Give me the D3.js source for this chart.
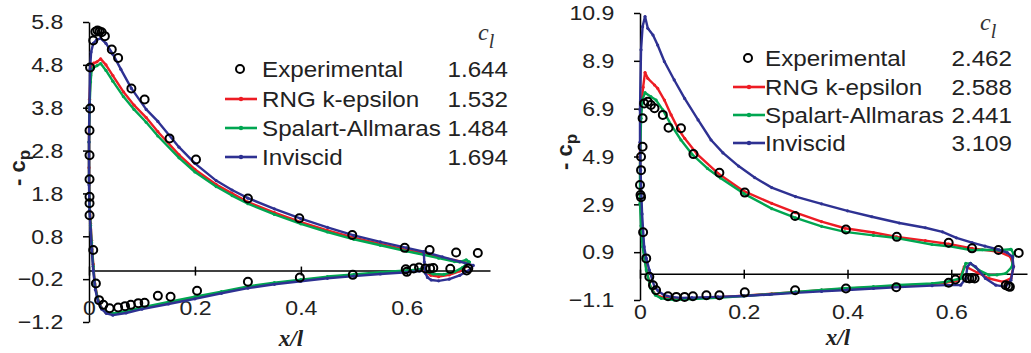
<!DOCTYPE html>
<html>
<head>
<meta charset="utf-8">
<script src="https://cdnjs.cloudflare.com/ajax/libs/d3/7.8.5/d3.min.js"></script>
<style>
  body { margin: 0; background: #fff; }
  svg { display: block; background: #fff; }
  .axis path, .axis line { stroke: #000; stroke-width: 1.5; }
  .axis text { font-family: "Liberation Sans", Arial, sans-serif; font-size: 21px; fill: #222; }
  .lg { font-family: "Liberation Sans", Arial, sans-serif; font-size: 22px; fill: #222; }
</style>
</head>
<body>
<svg width="1031" height="353"></svg>
<script>
const seriesNames = ["Experimental", "RNG k-epsilon", "Spalart-Allmaras", "Inviscid"];
const seriesColors = ["#000000", "#ed1c24", "#00a651", "#2e3192"];
const clLeft = ["1.644", "1.532", "1.484", "1.694"];
const clRight = ["2.462", "2.588", "2.441", "3.109"];
const yTicksLeft = [5.8, 4.8, 3.8, 2.8, 1.8, 0.8, -0.2, -1.2];
const yTicksRight = [10.9, 8.9, 6.9, 4.9, 2.9, 0.9, -1.1];
const xTicks = [0, 0.2, 0.4, 0.6];

// left case: [x/l, -cp]
const expLeft = [
  [0.012,5.57],[0.016,5.6],[0.02,5.58],[0.024,5.56],[0.008,5.37],[0.03,5.47],[0.043,5.16],[0.055,4.96],
  [0.08,4.25],[0.105,3.99],[0.152,3.08],[0.202,2.59],[0.30,1.68],[0.397,1.22],[0.497,0.83],[0.596,0.53],
  [0.643,0.48],[0.693,0.42],[0.734,0.41],
  [0.002,4.74],[0.002,3.78],[0.001,3.27],[0.001,2.69],[0.001,2.13],[0.001,1.72],[0.001,1.57],[0.001,1.29],
  [0.008,0.48],[0.013,-0.3],[0.019,-0.69],[0.027,-0.8],
  [0.039,-0.88],[0.055,-0.86],[0.068,-0.83],[0.079,-0.8],[0.093,-0.76],[0.105,-0.75],[0.13,-0.59],
  [0.154,-0.61],[0.204,-0.47],[0.30,-0.26],[0.398,-0.16],[0.498,-0.1],[0.598,0.03],[0.6,-0.03],
  [0.613,0.05],[0.623,0.07],[0.635,0.05],[0.644,0.05],[0.65,0.06],[0.682,0.04],[0.713,0.0],[0.716,0.05]
];
const rngLeft = [[
  [0.716,0.18],[0.69,0.24],[0.66,0.32],[0.632,0.40],[0.60,0.48],[0.55,0.62],[0.50,0.77],[0.45,0.94],
  [0.40,1.13],[0.35,1.35],[0.30,1.6],[0.27,1.8],[0.24,2.01],[0.20,2.36],[0.17,2.7],[0.13,3.24],
  [0.108,3.57],[0.085,3.86],[0.065,4.17],[0.045,4.55],[0.032,4.8],[0.022,4.94],[0.015,4.87],[0.009,4.84],
  [0.005,4.8],[0.003,4.55],[0.001,4.0],[0.0,3.2],[0.0,2.4],[0.001,1.6],[0.003,1.1],[0.005,0.7],
  [0.008,0.15],[0.011,-0.3],[0.016,-0.62],[0.023,-0.86],[0.032,-0.98],[0.045,-1.02],[0.07,-0.97],
  [0.1,-0.88],[0.15,-0.76],[0.2,-0.64],[0.25,-0.51],[0.3,-0.39],[0.35,-0.3],[0.4,-0.23],[0.45,-0.16],
  [0.5,-0.11],[0.55,-0.06],[0.6,-0.02],[0.625,0.01],[0.632,0.04],[0.636,-0.04],[0.645,-0.11],
  [0.66,-0.14],[0.68,-0.1],[0.70,-0.01],[0.711,0.09],[0.716,0.18]
]];
const saLeft = [[
  [0.718,0.2],[0.712,0.25],[0.70,0.2],[0.69,0.21],[0.66,0.29],[0.632,0.37],[0.60,0.45],[0.55,0.59],
  [0.50,0.73],[0.45,0.9],[0.40,1.09],[0.35,1.31],[0.30,1.56],[0.27,1.75],[0.24,1.96],[0.20,2.3],
  [0.17,2.63],[0.13,3.14],[0.108,3.46],[0.085,3.76],[0.065,4.06],[0.045,4.42],[0.032,4.67],[0.022,4.83],
  [0.015,4.78],[0.009,4.74],[0.005,4.68],[0.003,4.4],[0.001,3.8],[0.0,3.0],[0.0,2.2],[0.001,1.5],
  [0.003,1.05],[0.005,0.65],[0.008,0.1],[0.011,-0.33],[0.016,-0.64],[0.023,-0.87],[0.032,-0.98],
  [0.045,-1.0],[0.07,-0.95],[0.1,-0.86],[0.15,-0.73],[0.2,-0.61],[0.25,-0.49],[0.3,-0.37],[0.35,-0.28],
  [0.4,-0.21],[0.45,-0.14],[0.5,-0.09],[0.55,-0.04],[0.6,0.0],[0.625,0.03],[0.632,0.05],[0.637,-0.03],
  [0.65,-0.08],[0.67,-0.09],[0.69,-0.03],[0.705,0.07],[0.714,0.17],[0.718,0.2]
]];
const invLeft = [[
  [0.725,0.12],[0.70,0.21],[0.667,0.32],[0.632,0.44],[0.60,0.53],[0.55,0.67],[0.50,0.82],[0.45,1.01],
  [0.40,1.21],[0.35,1.44],[0.30,1.69],[0.27,1.88],[0.24,2.1],[0.20,2.5],[0.17,2.88],[0.13,3.48],
  [0.108,3.76],[0.08,4.25],[0.06,4.7],[0.045,5.05],[0.032,5.3],[0.022,5.42],[0.014,5.38],[0.008,5.3],
  [0.004,5.1],[0.002,4.7],[0.001,3.9],[0.0,3.0],[0.0,2.0],[0.001,1.4],[0.003,0.95],[0.005,0.5],
  [0.008,0.0],[0.012,-0.45],[0.017,-0.72],[0.024,-0.9],[0.033,-1.0],[0.045,-1.04],[0.07,-0.99],
  [0.1,-0.9],[0.15,-0.78],[0.2,-0.66],[0.25,-0.53],[0.3,-0.41],[0.35,-0.32],[0.4,-0.25],[0.45,-0.18],
  [0.5,-0.13],[0.55,-0.08],[0.6,-0.04],[0.625,-0.01]
], [
  [0.632,0.44],[0.633,0.2],[0.635,-0.06],[0.639,-0.16],[0.646,-0.22],[0.66,-0.24],[0.68,-0.2],
  [0.70,-0.11],[0.714,-0.02],[0.722,0.06],[0.725,0.12]
]];

// right case
const expRight = [
  [0.008,7.12],[0.015,7.19],[0.021,7.05],[0.028,6.92],[0.044,6.64],[0.055,6.1],[0.079,6.08],[0.103,5.0],
  [0.153,4.22],[0.202,3.39],[0.299,2.41],[0.397,1.85],[0.495,1.54],[0.595,1.29],[0.64,1.06],[0.691,0.99],
  [0.73,0.87],
  [0.005,6.5],[0.005,5.31],[0.002,4.89],[0.002,4.33],[0.0,3.71],[0.001,3.29],[0.002,3.2],[0.006,1.73],
  [0.012,0.64],[0.018,-0.13],[0.025,-0.48],[0.031,-0.69],
  [0.054,-0.94],[0.07,-0.97],[0.086,-0.97],[0.102,-0.94],[0.128,-0.9],[0.153,-0.9],[0.202,-0.78],
  [0.299,-0.69],[0.397,-0.62],[0.494,-0.57],[0.595,-0.38],[0.608,-0.24],[0.63,-0.18],[0.635,-0.2],
  [0.64,-0.18],[0.645,-0.2],[0.705,-0.48],[0.713,-0.55],[0.71,-0.52]
];
const rngRight = [[
  [0.714,0.71],[0.692,0.92],[0.64,1.06],[0.595,1.24],[0.55,1.38],[0.495,1.54],[0.45,1.72],[0.395,1.9],
  [0.35,2.18],[0.3,2.55],[0.254,2.94],[0.2,3.45],[0.15,4.2],[0.11,5.0],[0.086,5.66],[0.073,6.08],
  [0.06,6.64],[0.047,7.26],[0.034,7.75],[0.028,7.89],[0.015,8.17],[0.0097,8.41],[0.006,7.8],[0.003,7.1],
  [0.001,6.5],[0.0,5.0],[0.001,3.0],[0.004,1.8],[0.008,0.9],[0.013,0.1],[0.02,-0.55],[0.03,-0.88],
  [0.045,-1.0],[0.065,-1.05],[0.1,-1.03],[0.15,-0.98],[0.2,-0.92],[0.254,-0.84],[0.3,-0.77],
  [0.35,-0.69],[0.395,-0.63],[0.45,-0.56],[0.5,-0.5],[0.563,-0.43],[0.59,-0.37],[0.61,-0.3],
  [0.618,-0.12],[0.625,0.29],[0.632,0.25],[0.65,0.05],[0.673,-0.2],[0.7,-0.34],[0.715,-0.2],
  [0.72,0.3],[0.714,0.71]
]];
const saRight = [[
  [0.715,1.02],[0.692,0.98],[0.66,1.0],[0.64,0.98],[0.595,1.15],[0.563,1.22],[0.495,1.49],[0.45,1.6],
  [0.395,1.75],[0.35,1.98],[0.3,2.33],[0.254,2.72],[0.2,3.35],[0.155,4.0],[0.13,4.4],[0.1,5.0],
  [0.079,5.59],[0.06,6.22],[0.044,6.85],[0.031,7.26],[0.021,7.4],[0.0097,7.57],[0.005,7.3],[0.002,6.5],
  [0.0,4.5],[0.0,2.94],[0.002,2.0],[0.005,1.13],[0.012,0.15],[0.021,-0.62],[0.03,-0.9],[0.041,-1.03],
  [0.066,-1.1],[0.1,-1.06],[0.157,-1.0],[0.2,-0.93],[0.254,-0.85],[0.3,-0.76],[0.35,-0.68],
  [0.395,-0.61],[0.45,-0.54],[0.5,-0.47],[0.563,-0.41],[0.59,-0.34],[0.618,-0.2],[0.628,0.43],
  [0.637,0.43],[0.653,0.15],[0.673,-0.06],[0.688,-0.05],[0.705,0.01],[0.717,0.29],[0.72,0.85],
  [0.715,1.02]
]];
const invRight = [[
  [0.718,0.71],[0.708,0.88],[0.692,1.0],[0.665,1.15],[0.64,1.3],[0.61,1.5],[0.583,1.75],[0.55,1.92],
  [0.5,2.12],[0.447,2.38],[0.4,2.63],[0.35,2.92],[0.3,3.22],[0.254,3.6],[0.221,4.02],[0.19,4.5],
  [0.16,5.05],[0.137,5.59],[0.112,6.43],[0.086,7.33],[0.066,8.1],[0.047,8.87],[0.034,9.56],
  [0.025,9.98],[0.015,10.26],[0.0097,10.75],[0.005,10.33],[0.002,9.36],[0.0,6.85],[0.0,5.5],
  [0.001,4.33],[0.004,2.5],[0.008,1.13],[0.012,0.65],[0.018,0.15],[0.028,-0.55],[0.035,-0.72],
  [0.047,-0.9],[0.06,-0.97],[0.079,-1.01],[0.1,-1.0],[0.15,-0.97],[0.2,-0.93],[0.25,-0.87],
  [0.3,-0.8],[0.35,-0.74],[0.4,-0.68],[0.45,-0.62],[0.5,-0.56],[0.563,-0.5],[0.59,-0.48],
  [0.618,-0.48],[0.628,-0.2],[0.631,0.29],[0.637,0.43],[0.647,0.29],[0.666,-0.2],[0.686,-0.48],
  [0.705,-0.55],[0.715,-0.27],[0.72,0.29],[0.718,0.71]
]];

const svg = d3.select("svg");
const SX = 1.1; // the source picture is a little wider than tall

function stretchText(g, x, y, str, anchor) {
  return g.append("text")
    .attr("class", "lg")
    .attr("text-anchor", anchor || "start")
    .attr("transform", `translate(${x},${y}) scale(${SX},1)`)
    .text(str);
}

const panels = [
  {
    xRange: [89, 490], xMax: 0.757, yRange: [322, 22], yDom: [-1.2, 5.8], yTicks: yTicksLeft,
    exp: expLeft, models: [rngLeft, saLeft, invLeft], cl: clLeft,
    legend: { lx: 225, tx: 262, vx: 508, rows: [69, 99, 128, 157], clx: 478, cly: 40 },
    ylab: [25, 168], xlab: [291, 346]
  },
  {
    xRange: [640, 1027], xMax: 0.746, yRange: [300, 13], yDom: [-1.1, 10.9], yTicks: yTicksRight,
    exp: expRight, models: [rngRight, saRight, invRight], cl: clRight,
    legend: { lx: 733, tx: 765, vx: 1012, rows: [58, 87, 115, 143], clx: 980, cly: 30 },
    ylab: [572, 152], xlab: [838, 345]
  }
];

panels.forEach(p => {
  const x = d3.scaleLinear().domain([0, p.xMax]).range(p.xRange);
  const y = d3.scaleLinear().domain(p.yDom).range(p.yRange);
  const g = svg.append("g");

  // axes
  const yAxis = d3.axisLeft(y).tickValues(p.yTicks).tickFormat(d3.format(".1f"))
    .tickSize(6).tickSizeOuter(0).tickPadding(11);
  g.append("g").attr("class", "axis")
    .attr("transform", `translate(${x(0)},0)`)
    .call(yAxis)
    .selectAll("text").attr("transform", `scale(${SX},1)`).attr("dx", "-0.3em");

  const xAxis = d3.axisBottom(x).tickValues(xTicks).tickFormat(d => d === 0 ? "0" : d3.format(".1f")(d))
    .tickSize(5).tickSizeOuter(0).tickPadding(25);
  const xg = g.append("g").attr("class", "axis")
    .attr("transform", `translate(0,${y(0)})`)
    .call(xAxis);
  xg.selectAll("text").attr("transform", `scale(${SX},1)`);
  xg.selectAll(".tick line").attr("y1", -4);

  // model curves
  const line = d3.line().x(d => x(d[0])).y(d => y(d[1]));
  p.models.forEach((segs, i) => {
    const col = seriesColors[i + 1];
    segs.forEach(seg => {
      g.append("path").datum(seg)
        .attr("d", line)
        .attr("fill", "none")
        .attr("stroke", col)
        .attr("stroke-width", 2.4)
        .attr("stroke-linejoin", "round");
      g.selectAll(null).data(seg).enter().append("circle")
        .attr("cx", d => x(d[0])).attr("cy", d => y(d[1]))
        .attr("r", 1.6).attr("fill", col);
    });
  });

  // experimental points
  g.selectAll(null).data(p.exp).enter().append("circle")
    .attr("cx", d => x(d[0])).attr("cy", d => y(d[1]))
    .attr("r", 4).attr("fill", "none")
    .attr("stroke", "#000").attr("stroke-width", 2);

  // axis titles
  g.append("text")
    .attr("transform", `translate(${p.ylab[0]},${p.ylab[1]}) rotate(-90)`)
    .attr("text-anchor", "middle")
    .style("font-family", "'Liberation Sans', Arial, sans-serif")
    .style("font-size", "22px").style("font-weight", "bold").attr("fill", "#222")
    .call(t => {
      t.append("tspan").text("- c");
      t.append("tspan").attr("dy", 5).style("font-size", "17px").text("p");
    });

  g.append("text")
    .attr("x", p.xlab[0]).attr("y", p.xlab[1])
    .attr("text-anchor", "middle")
    .style("font-family", "'Liberation Serif', 'Times New Roman', serif")
    .style("font-size", "23px").style("font-weight", "bold").style("font-style", "italic")
    .attr("fill", "#222")
    .text("x/l");

  // legend
  const L = p.legend;
  const cl = g.append("text")
    .attr("x", L.clx).attr("y", L.cly)
    .style("font-family", "'Liberation Serif', 'Times New Roman', serif")
    .style("font-size", "24px").style("font-style", "italic").attr("fill", "#333");
  cl.append("tspan").text("c");
  cl.append("tspan").attr("dy", 8).style("font-size", "20px").text("l");

  seriesNames.forEach((name, i) => {
    const ry = L.rows[i];
    if (i === 0) {
      g.append("circle").attr("cx", L.lx + 15).attr("cy", ry).attr("r", 4)
        .attr("fill", "none").attr("stroke", "#000").attr("stroke-width", 2);
    } else {
      g.append("line").attr("x1", L.lx).attr("x2", L.lx + 32).attr("y1", ry).attr("y2", ry)
        .attr("stroke", seriesColors[i]).attr("stroke-width", 2.6);
      g.append("circle").attr("cx", L.lx + 16).attr("cy", ry).attr("r", 2.2).attr("fill", seriesColors[i]);
    }
    stretchText(g, L.tx, ry + 8, name);
    stretchText(g, L.vx, ry + 8, p.cl[i], "end");
  });
});
</script>
</body>
</html>
